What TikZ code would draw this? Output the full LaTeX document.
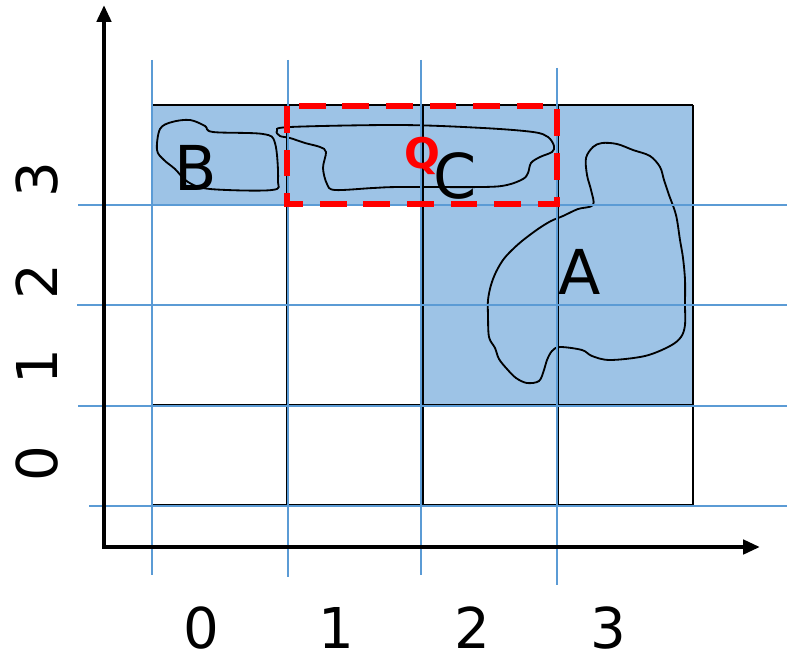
\documentclass[tikz,border=0pt]{standalone}
\usepackage{fontspec}
\setmainfont{DejaVu Sans}
\usetikzlibrary{arrows.meta}

\definecolor{cellfill}{HTML}{9DC3E6}
\definecolor{gridblue}{HTML}{5B9BD5}

\tikzset{
  axis/.style={line width=3.2pt,
    {Triangle[length=12pt,width=10pt]}-{Triangle[length=12pt,width=10pt]}},
  cellline/.style={black, line width=0.9pt},
  gridline/.style={gridblue, line width=1.4pt},
  region/.style={black, line width=1.3pt},
  query/.style={red, line width=3.6pt, dash pattern=on 19pt off 12pt},
  regionlabel/.style={font=\fontsize{44}{44}\selectfont, inner sep=0pt},
  ticklabel/.style={font=\fontsize{40}{40}\selectfont, inner sep=0pt}
}

\begin{document}
\begin{tikzpicture}[x=0.025cm, y=-0.025cm]
  \useasboundingbox (0,0) rectangle (787,657);

  % shaded cells
  \fill[cellfill] (152,105) rectangle (693,205);
  \fill[cellfill] (423,205) rectangle (693,405);

  % cells
  \foreach \x in {152,287,423,558,693}
    \draw[cellline] (\x,105) -- (\x,505);
  \foreach \y in {105,205,305,405,505}
    \draw[cellline] (152,\y) -- (693,\y);

  % regions
  \draw[region] plot[smooth cycle, tension=0.55] coordinates {
    (157,150) (160,129) (172,122) (190,120) (205,126) (213,132) (263,134)
    (275,143) (278,180) (272,190) (210,189) (188,182) (175,169) (164,160)};
  \draw[region] plot[smooth cycle, tension=0.55] coordinates {
    (277,131) (290,127) (400,125) (483,128) (533,132) (548,137) (554,146)
    (552,152) (540,157) (531,163) (528,173) (523,179) (507,185) (483,187)
    (400,187) (373,188) (335,190) (327,184) (323,168) (326,152) (320,147)
    (305,143) (290,138) (280,136)};
  \draw[region] plot[smooth cycle, tension=0.55] coordinates {
    (593,147) (602,143) (617,144) (633,150) (650,156) (660,167) (664,180)
    (669,195) (676,215) (680,240) (683,258) (685,280) (685,305) (685,325)
    (681,337) (670,346) (645,356) (610,360) (592,356) (582,350) (560,347)
    (552,351) (547,360) (544,370) (539,381) (527,383) (516,378) (507,369)
    (499,359) (495,348) (489,337) (488,315) (488,300) (491,285) (496,272)
    (503,260) (511,251) (522,241) (538,229) (551,221) (563,216) (578,209)
    (593,205) (591,190) (587,175) (586,158)};

  % grid
  \foreach \x/\a/\b in {152/60/575, 288/60/577, 421/60/575, 557/68/585}
    \draw[gridline] (\x,\a) -- (\x,\b);
  \foreach \y/\a in {205/78, 305/77, 406/78, 506/89}
    \draw[gridline] (\a,\y) -- (787,\y);

  % query window
  \draw[query] (287,106) rectangle (557,204);

  % axes
  \coordinate (yend) at (104,5);
  \coordinate (origin) at (104,547);
  \coordinate (xend) at (760,547);
  \draw[axis] (yend) -- (origin) -- (xend);

  % labels
  \node[regionlabel] (lblB) at (196,168) {B};
  \node[regionlabel] (lblC) at (455,176) {C};
  \node[regionlabel] (lblA) at (580,272) {A};
  \node[red, font=\fontsize{30}{30}\selectfont\bfseries, inner sep=0pt] (lblQ) at (422,156) {Q};

  \foreach \i/\x in {0/201, 1/336, 2/472, 3/608}
    \node[ticklabel] (x\i) at (\x,628) {\i};
  \foreach \i/\y in {0/464, 1/367, 2/282, 3/180}
    \node[ticklabel, rotate=90] (y\i) at (37,\y) {\i};
\end{tikzpicture}
\end{document}
